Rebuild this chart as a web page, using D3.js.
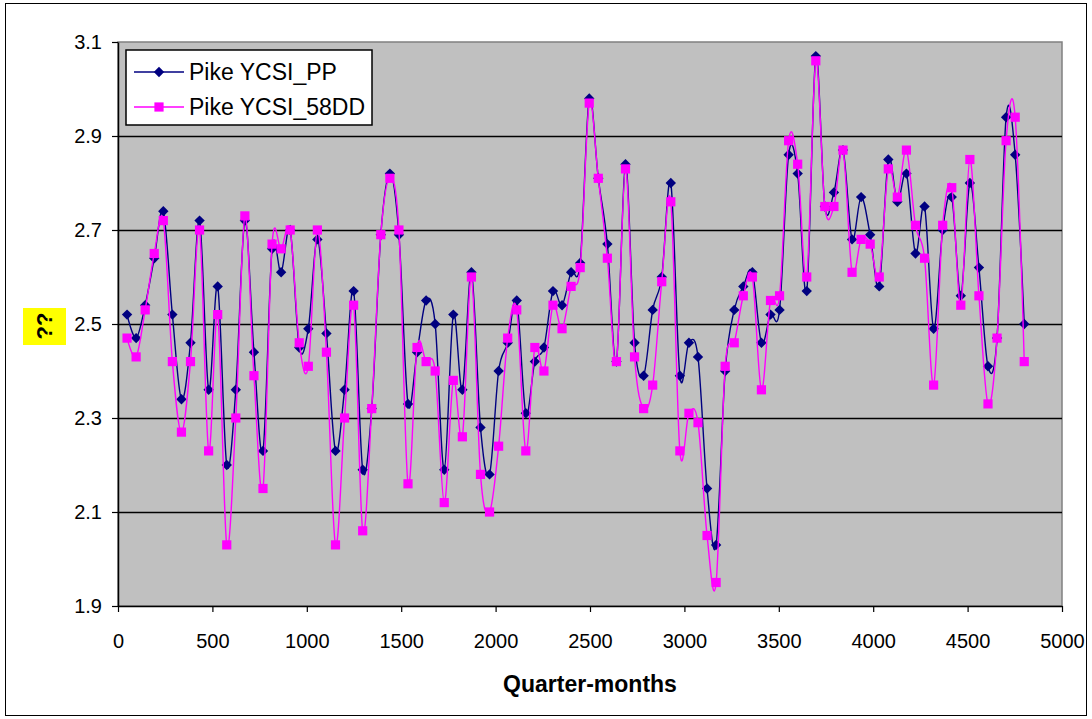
<!DOCTYPE html>
<html>
<head>
<meta charset="utf-8">
<script src="https://cdn.jsdelivr.net/npm/d3@7"></script>
<style>
  html, body { margin: 0; padding: 0; background: #ffffff; }
  svg { display: block; }
  text { font-family: "Liberation Sans", Arial, sans-serif; }
</style>
</head>
<body>
<svg id="chart" width="1092" height="719"></svg>
<script>
// ---- Data ----
const quarterMonths = [
  48, 96, 144, 192, 240, 288, 336, 384, 432, 480,
  528, 576, 624, 672, 720, 768, 816, 864, 912, 960,
  1008, 1056, 1104, 1152, 1200, 1248, 1296, 1344, 1392, 1440,
  1488, 1536, 1584, 1632, 1680, 1728, 1776, 1824, 1872, 1920,
  1968, 2016, 2064, 2112, 2160, 2208, 2256, 2304, 2352, 2400,
  2448, 2496, 2544, 2592, 2640, 2688, 2736, 2784, 2832, 2880,
  2928, 2976, 3024, 3072, 3120, 3168, 3216, 3264, 3312, 3360,
  3408, 3456, 3504, 3552, 3600, 3648, 3696, 3744, 3792, 3840,
  3888, 3936, 3984, 4032, 4080, 4128, 4176, 4224, 4272, 4320,
  4368, 4416, 4464, 4512, 4560, 4608, 4656, 4704, 4752, 4800
];

const pikePP = [
  2.52, 2.47, 2.54, 2.64, 2.74, 2.52, 2.34, 2.46, 2.72, 2.36,
  2.58, 2.20, 2.36, 2.72, 2.44, 2.23, 2.66, 2.61, 2.70, 2.45,
  2.49, 2.68, 2.48, 2.23, 2.36, 2.57, 2.19, 2.32, 2.69, 2.82,
  2.69, 2.33, 2.44, 2.55, 2.50, 2.19, 2.52, 2.36, 2.61, 2.28,
  2.18, 2.40, 2.46, 2.55, 2.31, 2.42, 2.45, 2.57, 2.54, 2.61,
  2.63, 2.98, 2.81, 2.67, 2.42, 2.84, 2.46, 2.39, 2.53, 2.60,
  2.80, 2.39, 2.46, 2.43, 2.15, 2.03, 2.40, 2.53, 2.58, 2.61,
  2.46, 2.52, 2.53, 2.86, 2.82, 2.57, 3.07, 2.75, 2.78, 2.87,
  2.68, 2.77, 2.69, 2.58, 2.85, 2.76, 2.82, 2.65, 2.75, 2.49,
  2.70, 2.77, 2.56, 2.80, 2.62, 2.41, 2.47, 2.94, 2.86, 2.50
];

const pike58DD = [
  2.47, 2.43, 2.53, 2.65, 2.72, 2.42, 2.27, 2.42, 2.70, 2.23,
  2.52, 2.03, 2.30, 2.73, 2.39, 2.15, 2.67, 2.66, 2.70, 2.46,
  2.41, 2.70, 2.44, 2.03, 2.30, 2.54, 2.06, 2.32, 2.69, 2.81,
  2.70, 2.16, 2.45, 2.42, 2.40, 2.12, 2.38, 2.26, 2.60, 2.18,
  2.10, 2.24, 2.47, 2.53, 2.23, 2.45, 2.40, 2.54, 2.49, 2.58,
  2.62, 2.97, 2.81, 2.64, 2.42, 2.83, 2.43, 2.32, 2.37, 2.59,
  2.76, 2.23, 2.31, 2.29, 2.05, 1.95, 2.41, 2.46, 2.56, 2.60,
  2.36, 2.55, 2.56, 2.89, 2.84, 2.60, 3.06, 2.75, 2.75, 2.87,
  2.61, 2.68, 2.67, 2.60, 2.83, 2.77, 2.87, 2.71, 2.64, 2.37,
  2.71, 2.79, 2.54, 2.85, 2.56, 2.33, 2.47, 2.89, 2.94, 2.42
];

const seriesNames = ["Pike YCSI_PP", "Pike YCSI_58DD"];
const xTicks = [0, 500, 1000, 1500, 2000, 2500, 3000, 3500, 4000, 4500, 5000];
const yTicks = [1.9, 2.1, 2.3, 2.5, 2.7, 2.9, 3.1];
const xTitle = "Quarter-months";
const yTitle = "??";

// ---- Layout ----
const svg = d3.select("#chart");
const plot = { left: 118, top: 42, right: 1062, bottom: 606 };

const x = d3.scaleLinear().domain([0, 5000]).range([plot.left, plot.right]);
const y = d3.scaleLinear().domain([1.9, 3.1]).range([plot.bottom, plot.top]);

// outer frame
svg.append("rect")
  .attr("x", 5.5).attr("y", 3.5).attr("width", 1081).attr("height", 712)
  .attr("fill", "#ffffff").attr("stroke", "#000000").attr("stroke-width", 1);

// plot area
svg.append("rect")
  .attr("x", plot.left).attr("y", plot.top)
  .attr("width", plot.right - plot.left).attr("height", plot.bottom - plot.top)
  .attr("fill", "#c0c0c0").attr("stroke", "#808080").attr("stroke-width", 1.5);

// gridlines
svg.append("g").selectAll("line")
  .data(yTicks.filter(d => d > 1.9 && d < 3.1))
  .join("line")
  .attr("x1", plot.left).attr("x2", plot.right)
  .attr("y1", d => Math.round(y(d)) + 0.5).attr("y2", d => Math.round(y(d)) + 0.5)
  .attr("stroke", "#000000").attr("stroke-width", 1.5);

// axes
const yAxis = d3.axisLeft(y).tickValues(yTicks).tickFormat(d3.format(".1f"))
  .tickSize(6).tickPadding(10).tickSizeOuter(0);
const gy = svg.append("g").attr("transform", `translate(${plot.left},0)`).call(yAxis);
gy.select(".domain").attr("stroke", "#000").attr("stroke-width", 1.5);
gy.selectAll(".tick line").attr("stroke", "#000").attr("stroke-width", 1.2);
gy.selectAll(".tick text").attr("font-size", 20).attr("fill", "#000")
  .attr("font-family", '"Liberation Sans", Arial, sans-serif');

const xAxis = d3.axisBottom(x).tickValues(xTicks).tickFormat(d3.format("d"))
  .tickSize(6).tickPadding(22).tickSizeOuter(0);
const gx = svg.append("g").attr("transform", `translate(0,${plot.bottom})`).call(xAxis);
gx.select(".domain").attr("stroke", "#000").attr("stroke-width", 1.5);
gx.selectAll(".tick line").attr("stroke", "#000").attr("stroke-width", 1.2);
gx.selectAll(".tick text").attr("font-size", 20).attr("fill", "#000")
  .attr("font-family", '"Liberation Sans", Arial, sans-serif');

// axis titles
svg.append("text")
  .attr("x", (plot.left + plot.right) / 2).attr("y", 692)
  .attr("text-anchor", "middle")
  .attr("font-size", 23).attr("font-weight", "bold").attr("fill", "#000")
  .text(xTitle);

svg.append("rect")
  .attr("x", 23).attr("y", 308).attr("width", 43).attr("height", 37)
  .attr("fill", "#ffff00");
svg.append("text")
  .attr("transform", "translate(52,326) rotate(-90)")
  .attr("text-anchor", "middle")
  .attr("font-size", 22).attr("font-weight", "bold").attr("fill", "#000")
  .text(yTitle);

// series
const curve = d3.curveCardinal.tension(0);
const line = d3.line().x(d => x(d[0])).y(d => y(d[1])).curve(curve);

const diamond = s => `M0,${-s}L${s},0L0,${s}L${-s},0Z`;

function drawSeries(values, color, marker) {
  const pts = quarterMonths.map((q, i) => [q, values[i]]);
  const g = svg.append("g");
  g.append("path").datum(pts)
    .attr("d", line).attr("fill", "none")
    .attr("stroke", color).attr("stroke-width", 1.4);
  if (marker === "diamond") {
    g.selectAll("path.mk").data(pts).join("path").attr("class", "mk")
      .attr("transform", d => `translate(${x(d[0])},${y(d[1])})`)
      .attr("d", diamond(5.2)).attr("fill", color);
  } else {
    g.selectAll("rect.mk").data(pts).join("rect").attr("class", "mk")
      .attr("x", d => x(d[0]) - 4.6).attr("y", d => y(d[1]) - 4.6)
      .attr("width", 9.2).attr("height", 9.2).attr("fill", color);
  }
}

drawSeries(pikePP, "#000080", "diamond");
drawSeries(pike58DD, "#ff00ff", "square");

// legend
const lg = svg.append("g");
lg.append("rect").attr("x", 126).attr("y", 50).attr("width", 246).attr("height", 75)
  .attr("fill", "#ffffff").attr("stroke", "#000000").attr("stroke-width", 1.5);
const legendRows = [
  { name: seriesNames[0], color: "#000080", marker: "diamond", cy: 72 },
  { name: seriesNames[1], color: "#ff00ff", marker: "square", cy: 107 }
];
legendRows.forEach(r => {
  lg.append("line").attr("x1", 134).attr("x2", 184).attr("y1", r.cy).attr("y2", r.cy)
    .attr("stroke", r.color).attr("stroke-width", 1.4);
  if (r.marker === "diamond") {
    lg.append("path").attr("transform", `translate(159,${r.cy})`)
      .attr("d", diamond(5.2)).attr("fill", r.color);
  } else {
    lg.append("rect").attr("x", 159 - 4.6).attr("y", r.cy - 4.6)
      .attr("width", 9.2).attr("height", 9.2).attr("fill", r.color);
  }
  lg.append("text").attr("x", 189).attr("y", r.cy + 8)
    .attr("font-size", 23).attr("fill", "#000").text(r.name);
});
</script>
</body>
</html>
